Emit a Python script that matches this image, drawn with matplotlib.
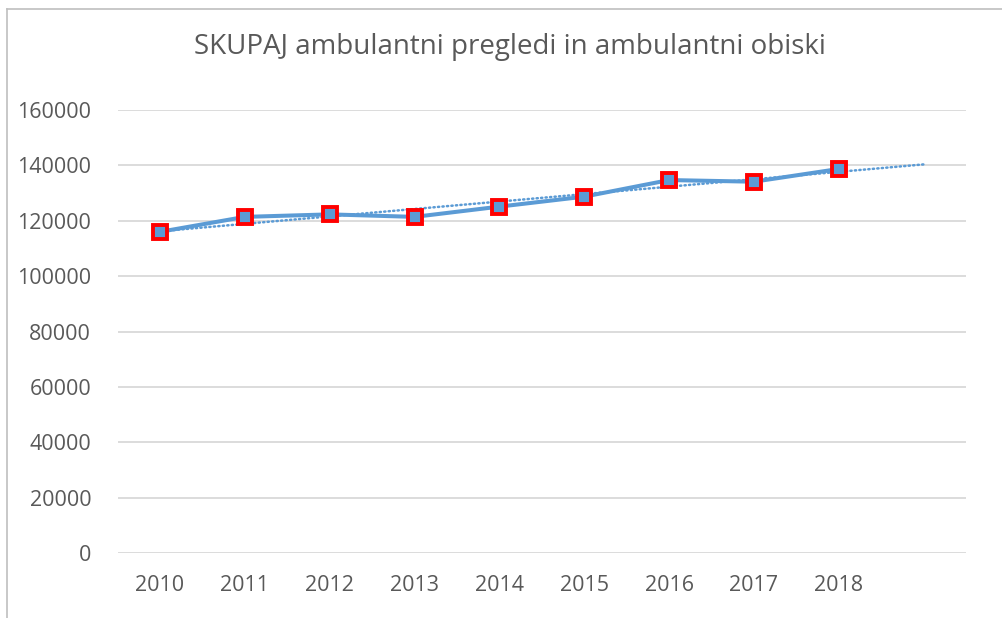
import numpy as np
import matplotlib
matplotlib.use("Agg")
import matplotlib.pyplot as plt
from matplotlib.lines import Line2D

matplotlib.rcParams.update({"font.family": ["Open Sans", "DejaVu Sans"]})

# data
YEARS = ["2010", "2011", "2012", "2013", "2014", "2015", "2016", "2017", "2018"]
VISITS = [116000, 121400, 122300, 121400, 125100, 128700, 134700, 134100, 138700]
Y_TICKS = [0, 20000, 40000, 60000, 80000, 100000, 120000, 140000, 160000]
TITLE = "SKUPAJ ambulantni pregledi in ambulantni obiski"

BLUE = "#5B9BD5"
TEXT = "#595959"
GRID = "#D9D9D9"

W, H = 1002, 618
fig = plt.figure(figsize=(W / 100, H / 100), dpi=100)
ax = fig.add_axes([117.6 / W, 1 - 553 / H, (966 - 117.6) / W, (553 - 110) / H])

x = np.arange(len(YEARS))
# linear trend, forecast one period forward (Excel style)
k, b = np.polyfit(x, VISITS, 1)
xt = np.arange(len(YEARS) + 1)
ax.plot(xt, k * xt + b, color=BLUE, lw=1.8, ls=(0, (0.5, 1.3)),
        dash_capstyle="round", zorder=2)

ax.plot(x, VISITS, color=BLUE, lw=2.9, zorder=3,
        marker="s", markersize=10, markerfacecolor=BLUE,
        markeredgecolor="#FF0000", markeredgewidth=2.8)

ax.set_xlim(-0.5, len(YEARS) + 0.5)
ax.set_ylim(0, 160000)
ax.set_yticks(Y_TICKS)
ax.set_yticklabels([str(v) for v in Y_TICKS])
ax.set_xticks(x)
ax.set_xticklabels(YEARS)
ax.tick_params(axis="both", length=0, labelsize=15.5, colors=TEXT)
ax.tick_params(axis="y", pad=19)
ax.tick_params(axis="x", pad=16)
ax.grid(axis="y", color=GRID, lw=1.3)
ax.set_axisbelow(True)
for s in ax.spines.values():
    s.set_visible(False)

fig.text(510 / W, 1 - 47 / H, TITLE, ha="center", va="center",
         fontsize=20, color=TEXT)

# chart border (top and left edges visible in the crop)
fig.add_artist(Line2D([7 / W, 7 / W], [0, 1 - 9 / H], transform=fig.transFigure,
                      color="#BFBFBF", lw=1.2))
fig.add_artist(Line2D([7 / W, 1], [1 - 9 / H, 1 - 9 / H], transform=fig.transFigure,
                      color="#BFBFBF", lw=1.2))

fig.savefig("out.png", dpi=100)
